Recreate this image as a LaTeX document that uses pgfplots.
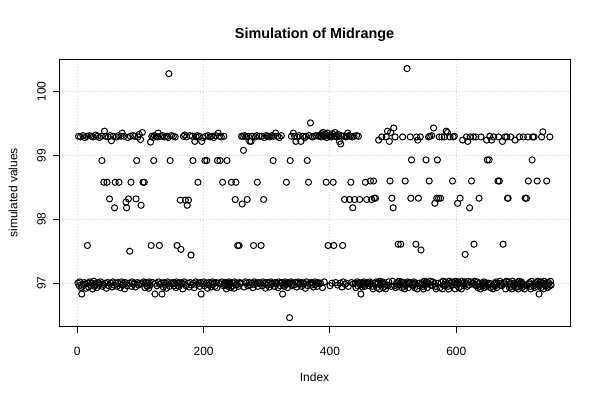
\documentclass[border=0pt]{standalone}
\usepackage{fontspec}
\setmainfont{Liberation Sans}
\usepackage{pgfplots}
\usepackage{pgfplotstable}
\pgfplotsset{compat=1.18}

% simulated midrange values, one per index (1..750), ten per line
\pgfplotstableread[row sep=\\]{
y\\
97.00\\ 99.30\\ 96.96\\ 97.02\\ 99.29\\ 96.93\\ 96.83\\ 96.95\\ 99.31\\ 96.97\\
97.01\\ 99.28\\ 96.99\\ 96.92\\ 99.30\\ 97.59\\ 97.00\\ 96.94\\ 99.31\\ 97.02\\
96.96\\ 99.30\\ 97.00\\ 96.91\\ 99.29\\ 97.03\\ 96.95\\ 96.98\\ 99.32\\ 97.00\\
96.93\\ 99.30\\ 97.01\\ 96.97\\ 99.28\\ 96.99\\ 97.02\\ 99.30\\ 98.92\\ 96.95\\
96.98\\ 98.58\\ 99.38\\ 97.00\\ 99.30\\ 96.92\\ 98.58\\ 97.01\\ 99.29\\ 96.96\\
98.32\\ 99.31\\ 97.00\\ 99.23\\ 96.94\\ 97.02\\ 99.30\\ 96.97\\ 98.18\\ 98.58\\
97.00\\ 99.29\\ 96.95\\ 97.01\\ 99.31\\ 98.58\\ 96.99\\ 96.93\\ 99.30\\ 97.02\\
99.35\\ 96.97\\ 97.00\\ 99.30\\ 96.91\\ 97.01\\ 98.27\\ 98.18\\ 96.96\\ 99.28\\
98.32\\ 97.00\\ 97.50\\ 99.30\\ 98.58\\ 96.95\\ 97.02\\ 99.31\\ 96.98\\ 97.00\\
99.30\\ 96.94\\ 98.32\\ 98.92\\ 97.01\\ 99.29\\ 96.97\\ 99.33\\ 97.00\\ 99.25\\
98.22\\ 96.99\\ 99.36\\ 98.58\\ 97.02\\ 98.58\\ 96.93\\ 97.01\\ 97.00\\ 96.96\\
96.95\\ 97.00\\ 96.92\\ 97.02\\ 96.97\\ 99.21\\ 97.59\\ 99.30\\ 97.01\\ 99.28\\
98.92\\ 99.31\\ 96.83\\ 97.00\\ 99.30\\ 96.96\\ 99.29\\ 99.35\\ 97.02\\ 97.59\\
96.98\\ 99.30\\ 97.00\\ 96.83\\ 99.31\\ 96.94\\ 97.01\\ 99.29\\ 96.97\\ 97.00\\
96.92\\ 99.30\\ 97.02\\ 99.28\\ 100.28\\ 96.95\\ 98.92\\ 97.00\\ 99.31\\ 96.99\\
97.01\\ 99.30\\ 96.96\\ 97.00\\ 99.29\\ 96.93\\ 97.02\\ 97.59\\ 96.97\\ 97.00\\
96.95\\ 97.01\\ 98.30\\ 97.53\\ 96.99\\ 97.00\\ 96.91\\ 99.30\\ 97.02\\ 99.32\\
98.30\\ 96.96\\ 99.29\\ 98.22\\ 97.00\\ 98.30\\ 96.94\\ 99.31\\ 97.01\\ 97.44\\
96.97\\ 99.30\\ 98.92\\ 97.00\\ 96.93\\ 99.22\\ 97.02\\ 99.29\\ 96.98\\ 99.31\\
98.58\\ 97.00\\ 99.30\\ 96.95\\ 97.01\\ 96.83\\ 99.22\\ 96.99\\ 99.28\\ 97.02\\
96.96\\ 98.92\\ 99.30\\ 97.00\\ 98.92\\ 96.92\\ 99.31\\ 97.01\\ 96.97\\ 99.29\\
97.00\\ 96.94\\ 99.30\\ 97.02\\ 96.98\\ 99.28\\ 97.00\\ 96.95\\ 99.31\\ 97.01\\
96.93\\ 98.92\\ 99.35\\ 97.00\\ 99.30\\ 98.92\\ 96.99\\ 99.29\\ 97.02\\ 98.58\\
96.96\\ 99.30\\ 97.00\\ 96.97\\ 97.01\\ 96.91\\ 98.92\\ 97.00\\ 96.95\\ 97.02\\
96.98\\ 97.00\\ 96.93\\ 98.58\\ 97.01\\ 96.96\\ 97.00\\ 96.92\\ 97.02\\ 98.31\\
98.58\\ 96.97\\ 97.00\\ 97.59\\ 96.95\\ 97.59\\ 97.01\\ 96.99\\ 97.00\\ 99.30\\
98.24\\ 99.30\\ 99.08\\ 96.94\\ 99.31\\ 97.02\\ 99.29\\ 97.00\\ 98.31\\ 96.96\\
99.30\\ 97.01\\ 99.22\\ 96.97\\ 99.22\\ 97.00\\ 99.30\\ 96.93\\ 97.59\\ 97.02\\
96.98\\ 99.29\\ 97.00\\ 99.31\\ 98.58\\ 96.95\\ 97.01\\ 99.30\\ 96.99\\ 97.00\\
97.59\\ 99.30\\ 96.96\\ 97.02\\ 98.31\\ 99.28\\ 97.00\\ 96.92\\ 99.31\\ 97.01\\
96.97\\ 99.30\\ 97.00\\ 96.94\\ 99.29\\ 97.02\\ 96.98\\ 99.31\\ 97.00\\ 98.92\\
99.30\\ 96.95\\ 97.01\\ 99.35\\ 96.99\\ 97.00\\ 99.30\\ 96.93\\ 97.02\\ 99.28\\
96.96\\ 97.00\\ 99.31\\ 97.01\\ 96.83\\ 96.97\\ 97.00\\ 96.95\\ 97.02\\ 96.98\\
98.58\\ 97.00\\ 96.93\\ 97.01\\ 96.99\\ 96.46\\ 98.92\\ 97.02\\ 99.30\\ 96.96\\
97.00\\ 99.35\\ 96.97\\ 99.30\\ 97.01\\ 99.22\\ 96.94\\ 99.29\\ 97.00\\ 97.02\\
99.31\\ 96.98\\ 97.00\\ 99.22\\ 96.95\\ 97.01\\ 99.30\\ 96.99\\ 97.00\\ 99.28\\
96.92\\ 99.30\\ 97.02\\ 98.92\\ 96.96\\ 98.58\\ 99.31\\ 97.00\\ 99.51\\ 97.01\\
96.97\\ 99.29\\ 97.00\\ 96.94\\ 99.30\\ 97.02\\ 96.98\\ 99.31\\ 97.00\\ 96.95\\
97.01\\ 99.30\\ 96.99\\ 99.32\\ 97.00\\ 99.29\\ 99.34\\ 96.93\\ 99.36\\ 99.31\\
97.02\\ 99.30\\ 99.33\\ 98.58\\ 99.28\\ 99.35\\ 97.59\\ 99.31\\ 99.30\\ 96.96\\
99.32\\ 99.29\\ 97.00\\ 99.34\\ 98.58\\ 97.59\\ 99.30\\ 99.36\\ 97.01\\ 99.31\\
99.29\\ 96.97\\ 99.33\\ 99.30\\ 99.22\\ 97.00\\ 99.18\\ 99.31\\ 96.94\\ 97.59\\
97.02\\ 99.30\\ 98.31\\ 96.98\\ 99.29\\ 97.00\\ 99.30\\ 99.35\\ 96.95\\ 99.31\\
98.31\\ 99.30\\ 98.58\\ 97.01\\ 99.29\\ 98.18\\ 96.99\\ 99.30\\ 98.31\\ 97.00\\
96.93\\ 99.31\\ 97.02\\ 96.96\\ 99.30\\ 97.00\\ 98.31\\ 96.97\\ 96.83\\ 97.01\\
96.94\\ 97.00\\ 96.98\\ 97.02\\ 96.95\\ 98.58\\ 97.00\\ 98.31\\ 96.99\\ 97.01\\
97.00\\ 96.96\\ 97.02\\ 98.60\\ 96.99\\ 98.31\\ 96.95\\ 96.91\\ 98.60\\ 98.33\\
97.00\\ 98.33\\ 97.02\\ 96.93\\ 96.99\\ 97.01\\ 99.24\\ 96.91\\ 97.03\\ 96.97\\
97.00\\ 99.29\\ 97.02\\ 96.93\\ 96.99\\ 97.01\\ 96.95\\ 96.91\\ 99.29\\ 96.97\\
99.38\\ 96.96\\ 97.02\\ 99.22\\ 98.60\\ 99.36\\ 96.95\\ 98.33\\ 97.03\\ 98.18\\
99.43\\ 96.96\\ 99.29\\ 96.93\\ 96.99\\ 97.01\\ 96.95\\ 97.61\\ 97.03\\ 96.97\\
97.00\\ 97.61\\ 97.02\\ 96.93\\ 99.29\\ 97.01\\ 96.95\\ 96.91\\ 98.60\\ 96.97\\
97.00\\ 100.36\\ 97.02\\ 96.93\\ 96.99\\ 97.01\\ 99.29\\ 98.33\\ 98.93\\ 96.97\\
97.00\\ 96.96\\ 97.02\\ 96.93\\ 96.99\\ 97.61\\ 99.29\\ 96.91\\ 99.24\\ 98.33\\
97.00\\ 96.96\\ 99.29\\ 97.52\\ 96.99\\ 97.01\\ 96.95\\ 96.91\\ 97.03\\ 96.97\\
97.00\\ 98.93\\ 97.02\\ 96.93\\ 96.99\\ 99.29\\ 98.60\\ 99.30\\ 97.03\\ 96.97\\
99.31\\ 96.96\\ 97.02\\ 99.43\\ 96.99\\ 98.25\\ 96.95\\ 96.91\\ 98.33\\ 98.93\\
97.00\\ 98.33\\ 99.29\\ 96.93\\ 98.33\\ 97.01\\ 99.29\\ 96.91\\ 97.03\\ 96.97\\
99.29\\ 96.96\\ 97.02\\ 99.38\\ 96.99\\ 99.36\\ 96.95\\ 96.91\\ 97.03\\ 99.29\\
97.00\\ 96.96\\ 97.02\\ 98.60\\ 99.29\\ 97.01\\ 99.30\\ 96.91\\ 97.03\\ 96.97\\
97.00\\ 98.25\\ 97.02\\ 96.93\\ 96.99\\ 98.33\\ 96.95\\ 96.91\\ 97.03\\ 99.24\\
97.00\\ 96.96\\ 97.02\\ 97.45\\ 96.99\\ 99.29\\ 96.95\\ 99.22\\ 97.03\\ 96.97\\
98.18\\ 99.29\\ 97.02\\ 98.60\\ 96.99\\ 97.01\\ 99.29\\ 97.61\\ 97.03\\ 96.97\\
99.29\\ 96.96\\ 97.02\\ 96.93\\ 96.99\\ 98.33\\ 96.95\\ 96.91\\ 99.29\\ 96.97\\
97.00\\ 96.96\\ 97.02\\ 96.93\\ 96.99\\ 97.01\\ 96.95\\ 99.24\\ 98.93\\ 96.97\\
97.00\\ 98.93\\ 99.30\\ 96.93\\ 96.99\\ 99.24\\ 96.95\\ 96.91\\ 99.29\\ 96.97\\
97.00\\ 96.96\\ 97.02\\ 96.93\\ 96.99\\ 98.60\\ 99.29\\ 98.60\\ 97.03\\ 96.97\\
97.00\\ 96.96\\ 99.22\\ 97.61\\ 96.99\\ 97.01\\ 99.29\\ 96.91\\ 97.03\\ 99.29\\
98.33\\ 98.33\\ 97.02\\ 96.93\\ 96.99\\ 99.29\\ 96.95\\ 96.91\\ 97.03\\ 96.97\\
97.00\\ 96.96\\ 99.24\\ 96.93\\ 96.99\\ 97.01\\ 96.95\\ 96.91\\ 97.03\\ 99.29\\
97.00\\ 96.96\\ 97.02\\ 96.93\\ 96.99\\ 99.29\\ 96.95\\ 96.91\\ 98.33\\ 96.97\\
98.33\\ 96.96\\ 99.29\\ 98.60\\ 96.99\\ 97.01\\ 96.95\\ 96.91\\ 97.03\\ 98.93\\
99.29\\ 96.96\\ 99.29\\ 96.93\\ 96.99\\ 97.01\\ 96.95\\ 98.60\\ 97.03\\ 96.97\\
96.83\\ 96.96\\ 97.02\\ 96.93\\ 99.29\\ 97.01\\ 99.37\\ 96.91\\ 97.03\\ 96.97\\
97.00\\ 96.96\\ 98.60\\ 96.93\\ 96.99\\ 97.01\\ 96.95\\ 99.29\\ 97.03\\ 96.97\\
}\midrange

\begin{document}
\begin{tikzpicture}
  % page = 600x400 px at 0.75pt per px; plot box at px (59..570, 59..326.6)
  \path[use as bounding box] (-44.25pt,-55.05pt) rectangle (405.75pt,244.95pt);
  \begin{axis}[
    scale only axis,
    width=383.25pt, height=200.7pt,
    xmin=-28.96, xmax=779.96,
    ymin=96.32, ymax=100.51,
    xtick={0,200,400,600},
    ytick={97,98,99,100},
    tick align=outside,
    xtick pos=left, ytick pos=left,
    major tick length=4.5pt,
    tick style={black, line width=0.75pt},
    axis line style={black, line width=0.75pt},
    grid=major,
    grid style={color={rgb,255:red,211;green,211;blue,211}, dotted, line width=0.75pt},
    /pgf/number format/assume math mode=true,
    ticklabel style={font=\fontsize{9pt}{10pt}\selectfont},
    yticklabel style={rotate=90, anchor=center, yshift=8.6pt},
    xticklabel style={anchor=center, yshift=-14pt},
    title={Simulation of Midrange},
    title style={at={(0.5,1)}, anchor=center, yshift=12pt,
      font=\bfseries\fontsize{10.8pt}{13pt}\selectfont},
    xlabel={Index},
    xlabel style={at={(0.5,0)}, anchor=center, yshift=-38pt,
      font=\fontsize{9pt}{10pt}\selectfont},
    ylabel={simulated values},
    ylabel style={at={(0,0.5)}, anchor=center, yshift=34.5pt,
      font=\fontsize{9pt}{10pt}\selectfont},
  ]
    \addplot[only marks, mark=o, mark size=2.3pt,
      mark options={line width=0.75pt, black}]
      table[x expr=\coordindex+1, y=y] {\midrange};
  \end{axis}
\end{tikzpicture}
\end{document}
